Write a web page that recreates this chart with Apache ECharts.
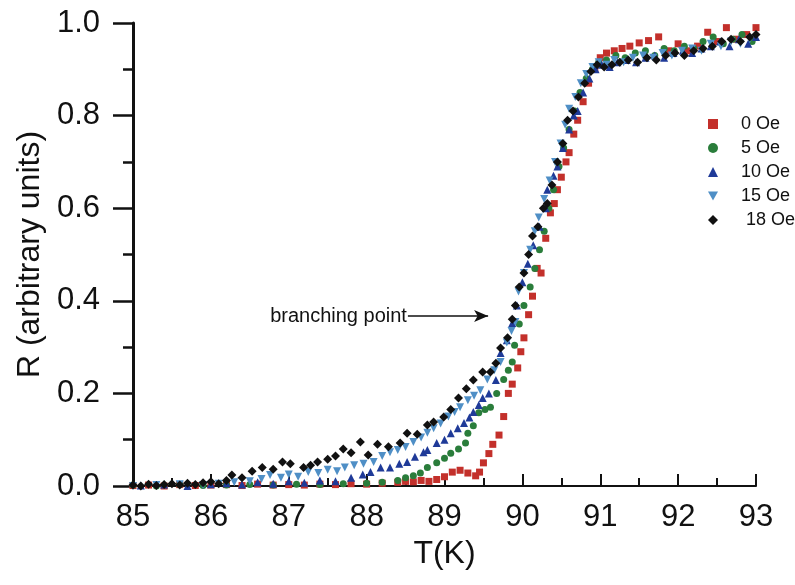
<!DOCTYPE html>
<html>
<head>
<meta charset="utf-8">
<script src="https://cdn.jsdelivr.net/npm/echarts@6/dist/echarts.min.js"></script>
<style>html,body{margin:0;padding:0;background:#fff}#c{width:795px;height:585px}</style>
</head>
<body>
<div id="c"></div>
<script>
// Tick labels / categories
var xTicks = [85, 86, 87, 88, 89, 90, 91, 92, 93];
var yTicks = [0.0, 0.2, 0.4, 0.6, 0.8, 1.0];
var seriesNames = ['0 Oe', '5 Oe', '10 Oe', '15 Oe', ' 18 Oe'];

// [T (K), R]
var oe0 = [[85.0,0.001],[85.2,0.002],[85.4,0.0],[85.6,0.003],[85.8,0.001],[86.0,0.002],[86.2,0.003],[86.4,0.001],[86.6,0.004],[86.8,0.002],[87.0,0.003],[87.2,0.002],[87.4,0.004],[87.6,0.003],[87.8,0.005],[88.0,0.004],[88.2,0.006],[88.4,0.008],[88.5,0.01],[88.6,0.009],[88.7,0.012],[88.8,0.01],[88.9,0.014],[89.0,0.02],[89.1,0.03],[89.2,0.034],[89.3,0.028],[89.4,0.022],[89.45,0.03],[89.5,0.05],[89.57,0.07],[89.62,0.09],[89.7,0.11],[89.76,0.15],[89.82,0.2],[89.87,0.22],[89.94,0.255],[89.98,0.29],[90.02,0.32],[90.08,0.37],[90.13,0.41],[90.19,0.47],[90.24,0.46],[90.3,0.535],[90.36,0.59],[90.41,0.61],[90.45,0.64],[90.5,0.667],[90.56,0.70],[90.6,0.72],[90.66,0.76],[90.71,0.79],[90.78,0.83],[90.85,0.87],[90.93,0.9],[91.0,0.925],[91.08,0.935],[91.18,0.94],[91.28,0.945],[91.38,0.95],[91.5,0.957],[91.62,0.962],[91.75,0.97],[91.88,0.94],[92.0,0.955],[92.12,0.94],[92.25,0.95],[92.38,0.98],[92.5,0.96],[92.62,0.99],[92.75,0.965],[92.88,0.975],[93.0,0.99]];
var oe5 = [[85.0,0.002],[85.3,0.0],[85.6,0.003],[85.9,0.001],[86.2,0.002],[86.5,0.003],[86.8,0.002],[87.1,0.004],[87.4,0.003],[87.7,0.005],[88.0,0.006],[88.2,0.008],[88.4,0.012],[88.5,0.018],[88.6,0.022],[88.69,0.028],[88.78,0.04],[88.9,0.05],[89.0,0.06],[89.08,0.071],[89.18,0.08],[89.27,0.093],[89.3,0.114],[89.37,0.13],[89.44,0.158],[89.52,0.165],[89.59,0.17],[89.67,0.2],[89.76,0.23],[89.82,0.25],[89.87,0.268],[89.9,0.304],[89.96,0.35],[90.02,0.39],[90.1,0.43],[90.16,0.47],[90.22,0.51],[90.28,0.55],[90.34,0.6],[90.4,0.64],[90.47,0.69],[90.53,0.73],[90.6,0.77],[90.67,0.81],[90.74,0.85],[90.82,0.88],[90.9,0.9],[90.98,0.915],[91.08,0.92],[91.2,0.93],[91.32,0.925],[91.45,0.935],[91.58,0.94],[91.7,0.93],[91.82,0.945],[91.95,0.94],[92.08,0.95],[92.2,0.945],[92.32,0.96],[92.45,0.97],[92.58,0.955],[92.7,0.965],[92.82,0.975],[92.95,0.96]];
var oe10 = [[85.1,0.001],[85.4,0.003],[85.7,0.0],[86.0,0.004],[86.2,0.006],[86.4,0.003],[86.6,0.008],[86.8,0.005],[87.0,0.01],[87.2,0.007],[87.4,0.012],[87.6,0.01],[87.8,0.018],[87.95,0.025],[88.05,0.03],[88.18,0.04],[88.3,0.04],[88.42,0.048],[88.52,0.052],[88.62,0.063],[88.73,0.073],[88.78,0.078],[88.9,0.093],[89.0,0.1],[89.08,0.114],[89.17,0.125],[89.25,0.136],[89.32,0.148],[89.37,0.16],[89.44,0.175],[89.49,0.19],[89.57,0.2],[89.66,0.229],[89.72,0.287],[89.8,0.315],[89.87,0.352],[89.93,0.39],[90.0,0.44],[90.07,0.48],[90.14,0.52],[90.22,0.56],[90.3,0.6],[90.32,0.64],[90.4,0.67],[90.45,0.69],[90.52,0.73],[90.6,0.77],[90.66,0.8],[90.71,0.81],[90.78,0.85],[90.86,0.88],[90.94,0.9],[91.02,0.91],[91.12,0.905],[91.22,0.915],[91.34,0.92],[91.46,0.915],[91.58,0.925],[91.7,0.93],[91.82,0.925],[91.94,0.935],[92.06,0.94],[92.18,0.935],[92.3,0.945],[92.42,0.95],[92.54,0.96],[92.66,0.95],[92.78,0.965],[92.9,0.955],[93.0,0.97]];
var oe15 = [[85.0,0.0],[85.3,0.002],[85.6,0.004],[85.9,0.002],[86.1,0.005],[86.3,0.008],[86.5,0.01],[86.65,0.015],[86.76,0.024],[86.9,0.018],[87.0,0.025],[87.12,0.02],[87.25,0.03],[87.38,0.028],[87.5,0.035],[87.62,0.032],[87.72,0.04],[87.84,0.045],[87.96,0.048],[88.09,0.052],[88.2,0.065],[88.3,0.073],[88.4,0.078],[88.5,0.084],[88.6,0.095],[88.7,0.105],[88.78,0.115],[88.86,0.125],[88.95,0.135],[89.05,0.15],[89.13,0.16],[89.2,0.17],[89.3,0.185],[89.38,0.195],[89.46,0.207],[89.55,0.23],[89.64,0.25],[89.72,0.268],[89.8,0.31],[89.86,0.335],[89.91,0.354],[89.95,0.42],[90.02,0.46],[90.1,0.51],[90.16,0.55],[90.21,0.58],[90.28,0.62],[90.35,0.66],[90.42,0.7],[90.49,0.74],[90.55,0.78],[90.6,0.815],[90.68,0.84],[90.75,0.87],[90.82,0.89],[90.9,0.905],[90.98,0.915],[91.08,0.91],[91.18,0.92],[91.3,0.915],[91.42,0.925],[91.55,0.93],[91.68,0.925],[91.8,0.935],[91.92,0.93],[92.05,0.94],[92.18,0.945],[92.3,0.94],[92.42,0.955],[92.55,0.95],[92.68,0.96],[92.8,0.955],[92.92,0.965]];
var oe18 = [[85.0,0.002],[85.1,0.0],[85.2,0.004],[85.3,0.001],[85.4,0.003],[85.5,0.005],[85.6,0.002],[85.7,0.006],[85.8,0.003],[85.9,0.007],[86.0,0.009],[86.1,0.005],[86.2,0.012],[86.27,0.024],[86.4,0.018],[86.53,0.032],[86.66,0.04],[86.8,0.036],[86.92,0.052],[87.02,0.048],[87.19,0.04],[87.28,0.045],[87.37,0.052],[87.5,0.058],[87.6,0.065],[87.7,0.08],[87.8,0.072],[87.92,0.095],[88.02,0.067],[88.14,0.09],[88.28,0.085],[88.43,0.093],[88.52,0.114],[88.65,0.112],[88.78,0.132],[88.86,0.138],[88.99,0.149],[89.08,0.165],[89.18,0.19],[89.28,0.21],[89.37,0.229],[89.49,0.246],[89.59,0.246],[89.66,0.265],[89.72,0.298],[89.81,0.32],[89.87,0.36],[89.91,0.39],[89.96,0.43],[90.02,0.46],[90.08,0.5],[90.13,0.54],[90.2,0.56],[90.27,0.6],[90.32,0.61],[90.38,0.65],[90.45,0.7],[90.52,0.74],[90.58,0.79],[90.65,0.81],[90.72,0.84],[90.8,0.87],[90.88,0.895],[90.96,0.91],[91.05,0.905],[91.15,0.91],[91.25,0.915],[91.36,0.92],[91.48,0.915],[91.6,0.925],[91.72,0.92],[91.84,0.93],[91.96,0.935],[92.08,0.93],[92.2,0.94],[92.32,0.945],[92.44,0.95],[92.56,0.96],[92.68,0.965],[92.8,0.96],[92.92,0.97],[93.0,0.975]];

// annotation: arrow from / to (T, R)
var arrowFrom = [88.53, 0.367];
var arrowTo = [89.56, 0.367];
var arrowText = 'branching point';

var FONT = '"Liberation Sans", Arial, Helvetica, sans-serif';
var colors = ['#c3302b', '#2a7d3b', '#1f3a98', '#4f8fc6', '#111111'];
var symbols = ['rect', 'circle', 'triangle', 'triangle', 'diamond'];
var legendIcons = ['rect', 'circle', 'triangle', 'path://M0,0L10,0L5,9Z', 'diamond'];
var rotates = [0, 0, 0, 180, 0];
var sizes = [7, 7, 8, 8, 9];
var datasets = [oe0, oe5, oe10, oe15, oe18];

var series = datasets.map(function (d, i) {
  var s = {
    name: seriesNames[i],
    type: 'scatter',
    data: d,
    symbol: symbols[i],
    symbolRotate: rotates[i],
    symbolSize: sizes[i],
    itemStyle: { color: colors[i], opacity: 1 },
    z: 2 + i
  };
  if (i === 4) {
    s.markLine = {
      silent: true,
      symbol: ['none', 'arrow'],
      symbolSize: [9, 14],
      lineStyle: { color: '#111', width: 1.6, type: 'solid' },
      label: { show: true, position: 'start', formatter: arrowText, fontSize: 20, color: '#111', fontFamily: FONT, distance: 1 },
      data: [[{ coord: arrowFrom }, { coord: arrowTo }]]
    };
  }
  return s;
});

var chart = echarts.init(document.getElementById('c'), null, { renderer: 'canvas' });
chart.setOption({
  animation: false,
  backgroundColor: '#ffffff',
  textStyle: { fontFamily: FONT },
  grid: { left: 133, right: 39, top: 23, bottom: 99, containLabel: false },
  legend: {
    orient: 'vertical',
    left: 703,
    top: 110,
    itemWidth: 10,
    itemHeight: 10,
    itemGap: 6,
    symbolRotate: 0,
    data: seriesNames.map(function (n, i) { return { name: n, icon: legendIcons[i] }; }),
    textStyle: { fontSize: 18, color: '#111', fontFamily: FONT, padding: [0, 0, 0, 18] },
    selectedMode: false
  },
  xAxis: {
    type: 'value',
    min: xTicks[0],
    max: xTicks[xTicks.length - 1],
    interval: 1,
    name: 'T(K)',
    nameLocation: 'middle',
    nameGap: 52,
    nameTextStyle: { fontSize: 32, color: '#111', fontFamily: FONT },
    axisLine: { show: true, lineStyle: { color: '#111', width: 2 } },
    axisTick: { show: true, inside: true, length: 12, lineStyle: { color: '#111', width: 2 } },
    minorTick: { show: true, splitNumber: 2, length: 8, lineStyle: { color: '#111', width: 2 } },
    splitLine: { show: false },
    axisLabel: { fontSize: 31, color: '#111', margin: 16, fontFamily: FONT,
      formatter: function (v) { return xTicks.indexOf(v) >= 0 ? String(v) : ''; } }
  },
  yAxis: {
    type: 'value',
    min: yTicks[0],
    max: yTicks[yTicks.length - 1],
    interval: 0.2,
    name: 'R (arbitrary units)',
    nameLocation: 'middle',
    nameGap: 84,
    nameTextStyle: { fontSize: 32, color: '#111', fontFamily: FONT },
    axisLine: { show: true, lineStyle: { color: '#111', width: 3 } },
    axisTick: { show: true, inside: false, length: 20, lineStyle: { color: '#111', width: 2.5 } },
    minorTick: { show: true, splitNumber: 2, length: 10, lineStyle: { color: '#111', width: 2.5 } },
    splitLine: { show: false },
    axisLabel: { fontSize: 31, color: '#111', margin: 33, fontFamily: FONT,
      formatter: function (v) { return v.toFixed(1); } }
  },
  series: series
});
</script>
</body>
</html>
